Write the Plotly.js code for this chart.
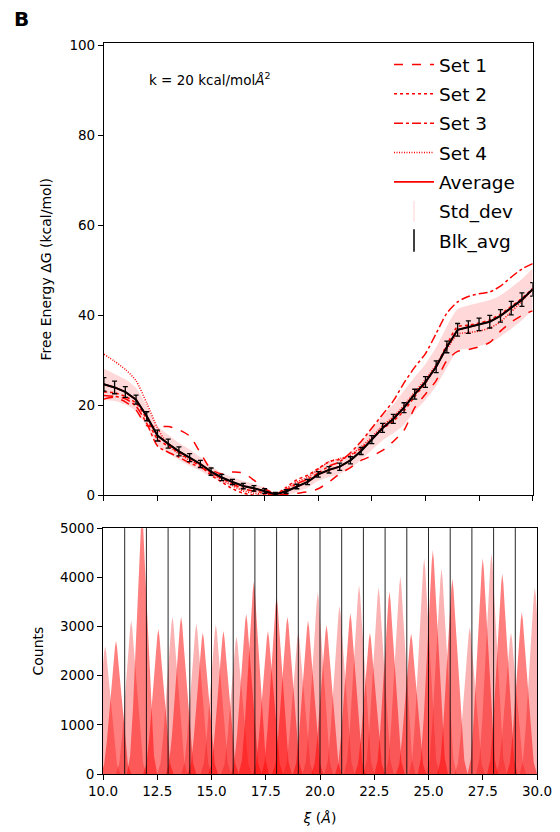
<!DOCTYPE html>
<html>
<head>
<meta charset="utf-8">
<script src="https://cdn.plot.ly/plotly-3.0.1.min.js"></script>
<style>html,body{margin:0;padding:0;background:#fff;}#chart{width:560px;height:832px;}</style>
</head>
<body>
<div id="chart"></div>
<script>
// ---- Free energy profile (top panel) ----
const xi = [10,10.5,11,11.5,12,12.5,13,13.5,14,14.5,15,15.5,16,16.5,17,17.5,18,18.5,19,19.5,20,20.5,21,21.5,22,22.5,23,23.5,24,24.5,25,25.5,26,26.5,27,27.5,28,28.5,29,29.5,30];
const average = [24.7,24.0,23.0,21.3,17.6,13.3,11.5,9.8,8.4,7.0,5.3,4.0,3.0,2.1,1.6,1.0,0.3,0.9,2.0,3.0,4.7,5.7,6.4,7.8,9.9,12.4,15.0,17.0,19.5,22.5,25.2,28.6,33.0,36.8,37.4,38.0,38.6,39.9,41.6,43.5,45.8];
const set1 = [21.4,21.8,20.8,19.0,15.5,15.3,15.3,14.6,13.2,9.5,5.8,4.8,5.2,5.0,3.4,1.5,0.4,0.2,0.5,0.8,1.5,3.0,4.8,6.2,7.8,8.8,10.0,12.0,14.5,19.5,22.5,25.5,30.0,32.0,32.4,33.0,34.0,36.5,38.5,40.0,41.0];
const set2 = [23.0,22.8,22.0,20.5,17.0,12.5,11.0,9.5,8.0,6.5,4.5,3.0,1.5,0.5,0.1,0.1,0.2,1.8,3.5,4.5,6.0,7.5,8.0,8.8,10.5,12.5,14.8,16.5,18.8,22.0,25.0,28.8,33.5,37.5,37.8,38.3,39.0,40.3,42.0,43.8,46.0];
const set3 = [22.2,22.0,21.5,19.8,16.0,11.0,9.6,8.5,7.2,6.3,5.0,3.8,2.6,1.5,1.0,0.6,0.2,1.2,2.6,3.6,5.0,6.5,7.5,9.5,12.0,15.0,18.0,21.0,25.0,28.5,31.5,36.0,40.5,43.0,44.2,44.8,45.2,46.5,48.5,50.3,51.5];
const set4 = [31.4,29.8,28.0,25.5,20.5,15.0,11.2,9.3,7.8,6.8,5.0,3.5,2.2,1.0,0.5,0.3,0.2,1.5,3.0,4.0,5.8,7.5,8.2,9.0,10.8,13.0,15.5,17.5,20.0,23.0,25.8,29.0,32.5,35.8,36.2,36.5,37.2,38.6,40.8,43.2,45.8];
const stdDev = [3.5,3.0,2.8,2.6,2.3,2.2,2.0,1.9,1.8,1.5,1.2,1.0,1.1,1.1,1.0,0.7,0.3,0.7,1.2,1.3,1.5,1.6,1.6,1.7,2.0,2.3,2.8,3.2,3.8,3.8,4.0,4.3,4.6,4.6,4.8,4.8,4.8,4.6,4.6,4.6,4.6];
const blkErr = [1.5,1.4,1.2,1.0,1.0,1.2,1.0,1.0,0.9,0.8,0.8,0.7,0.6,0.6,0.6,0.5,0.4,0.4,0.5,0.6,0.6,0.7,0.8,0.8,0.8,0.9,1.0,1.0,1.1,1.1,1.2,1.3,1.3,1.4,1.4,1.4,1.4,1.4,1.5,1.5,1.5];
const yTicksTop = [0,20,40,60,80,100];

// ---- Window histograms (bottom panel) ----
const peakCenter = [10.1,10.6,11.3,11.8,12.55,13.2,13.6,14.3,14.6,15.2,15.55,16.15,16.6,16.95,17.6,18.0,18.5,19.0,19.45,19.9,20.3,20.9,21.4,21.8,22.3,22.7,23.2,23.7,24.2,24.8,25.2,25.6,26.1,26.9,27.5,27.9,28.4,28.8,29.3,29.9];
const peakCount = [2600,2710,3120,5300,2950,3200,3200,3060,2880,3040,2910,2800,3260,3910,2910,3600,3200,2880,3120,3700,3030,3420,3270,3840,2880,3800,3710,4020,2860,4390,4550,4180,3970,2990,4390,4490,4080,2880,3290,3800];
const peakTone = ['L','R','L','R','R','L','R','L','R','L','R','L','R','R','R','R','R','L','R','L','R','L','R','L','R','L','R','L','R','L','R','L','R','L','R','L','R','L','R','L'];
// normalised shape of one window histogram (offset in Å, fraction of peak count)
const profileOffset = [-0.7,-0.55,-0.42,-0.32,-0.22,-0.12,-0.05,0,0.05,0.12,0.22,0.32,0.42,0.55,0.7];
const profileShape = [0,0.07,0.25,0.45,0.64,0.82,0.95,1,0.95,0.82,0.64,0.45,0.25,0.07,0];
const windowLines = [11,12,13,14,15,16,17,18,19,20,21,22,23,24,25,26,27,28,29];
const xTicks = [10,12.5,15,17.5,20,22.5,25,27.5,30];
const yTicksBottom = [0,1000,2000,3000,4000,5000];

const FONT = 'DejaVu Sans, Liberation Sans, sans-serif';
const RED = 'rgb(255,0,0)';
const traces = [];

// std band
traces.push({x: xi, y: average.map((v,i)=>v+stdDev[i]), xaxis:'x', yaxis:'y', mode:'lines', line:{width:0, shape:'spline', smoothing:0.6}, showlegend:false, hoverinfo:'skip'});
traces.push({x: xi, y: average.map((v,i)=>v-stdDev[i]), xaxis:'x', yaxis:'y', mode:'lines', line:{width:0, shape:'spline', smoothing:0.6}, fill:'tonexty', fillcolor:'rgba(255,0,0,0.15)', showlegend:false, hoverinfo:'skip'});

const sets = [[set1,'Set 1','dash'],[set2,'Set 2','dot'],[set3,'Set 3','dashdot'],[set4,'Set 4','1px,1.5px']];
sets.forEach((s,k)=>{
  traces.push({x: xi, y: s[0], name: s[1], xaxis:'x', yaxis:'y', mode:'lines', line:{color:RED, width:1.5, dash:s[2], shape:'spline', smoothing:0.7}, legendgroup:'g'+k, legendrank:k+1});
});
traces.push({x: xi, y: average, name:'Average', xaxis:'x', yaxis:'y', mode:'lines', line:{color:RED, width:1.8}, legendgroup:'g4', legendrank:5});
traces.push({x:[null], y:[null], name:'Std_dev', xaxis:'x', yaxis:'y', mode:'markers', marker:{symbol:'line-ns-open', size:15, color:'rgba(255,0,0,0.12)', line:{color:'rgba(255,0,0,0.12)', width:1.5}}, legendgroup:'g5', legendrank:6});
traces.push({x: xi, y: average, xaxis:'x', yaxis:'y', mode:'lines', line:{color:'black', width:2}, error_y:{type:'data', array:blkErr, visible:true, color:'black', thickness:1.3, width:2.5}, showlegend:false});
traces.push({x:[null], y:[null], name:'Blk_avg', xaxis:'x', yaxis:'y', mode:'markers', marker:{symbol:'line-ns-open', size:16, color:'black', line:{color:'black', width:1.5}}, legendgroup:'g6', legendrank:7});

// histograms
peakCenter.forEach((c,i)=>{
  traces.push({
    x: profileOffset.map(o=>c+o),
    y: profileShape.map(f=>f*peakCount[i]),
    xaxis:'x2', yaxis:'y2', mode:'lines', line:{width:0}, fill:'toself',
    fillcolor: peakTone[i]==='L' ? 'rgba(240,0,0,0.3)' : 'rgba(255,0,0,0.5)',
    showlegend:false, hoverinfo:'skip'
  });
});

const shapes = windowLines.map(v=>({type:'line', xref:'x2', yref:'y2 domain', x0:v, x1:v, y0:0, y1:1, line:{color:'rgba(0,0,0,0.85)', width:1}}));

const layout = {
  width:560, height:832,
  margin:{l:103, r:23, t:43, b:58},
  paper_bgcolor:'white', plot_bgcolor:'white',
  font:{family:FONT, size:13.5, color:'black'},
  showlegend:true,
  legend:{x:0.659, y:0.996, xanchor:'left', yanchor:'top', font:{family:FONT, size:18.5, color:'black'}, bgcolor:'rgba(0,0,0,0)', borderwidth:0, traceorder:'grouped', tracegroupgap:2.3, itemwidth:40},
  xaxis:{domain:[0.002,0.99], anchor:'y', range:[10,30], tickvals:xTicks, showticklabels:false, ticks:'outside', ticklen:5, tickcolor:'black', showline:true, linecolor:'black', linewidth:1, mirror:true, showgrid:false, zeroline:false},
  yaxis:{domain:[0.381,1], anchor:'x', range:[0,100.5], tickvals:yTicksTop, ticks:'outside', ticklen:5, tickcolor:'black', showline:true, linecolor:'black', linewidth:1, mirror:true, showgrid:false, zeroline:false, title:{text:'Free Energy ΔG (kcal/mol)', font:{size:14}, standoff:14}},
  xaxis2:{domain:[0,1], anchor:'y2', range:[10,30], tickvals:xTicks, ticktext:xTicks.map(v=>v.toFixed(1)), ticks:'outside', ticklen:5, tickcolor:'black', showline:true, linecolor:'black', linewidth:1, mirror:true, showgrid:false, zeroline:false, title:{text:'<i>ξ</i> (<i>Å</i>)', font:{size:14}, standoff:14}},
  yaxis2:{domain:[0,0.3363], anchor:'x2', range:[0,5000], tickvals:yTicksBottom, ticks:'outside', ticklen:5, tickcolor:'black', showline:true, linecolor:'black', linewidth:1, mirror:true, showgrid:false, zeroline:false, title:{text:'Counts', font:{size:14}, standoff:13}},
  shapes: shapes,
  annotations:[
    {xref:'paper', yref:'paper', x:-0.21, y:1.0335, xanchor:'left', yanchor:'middle', text:'<b>B</b>', showarrow:false, font:{size:20, family:FONT}},
    {xref:'x', yref:'y', x:12.0, y:92.6, xanchor:'left', yanchor:'middle', text:'k = 20 kcal/mol<i>Å</i><sup>2</sup>', showarrow:false, font:{size:13.5, family:FONT}}
  ]
};

Plotly.newPlot('chart', traces, layout, {displayModeBar:false, staticPlot:true});
</script>
</body>
</html>
